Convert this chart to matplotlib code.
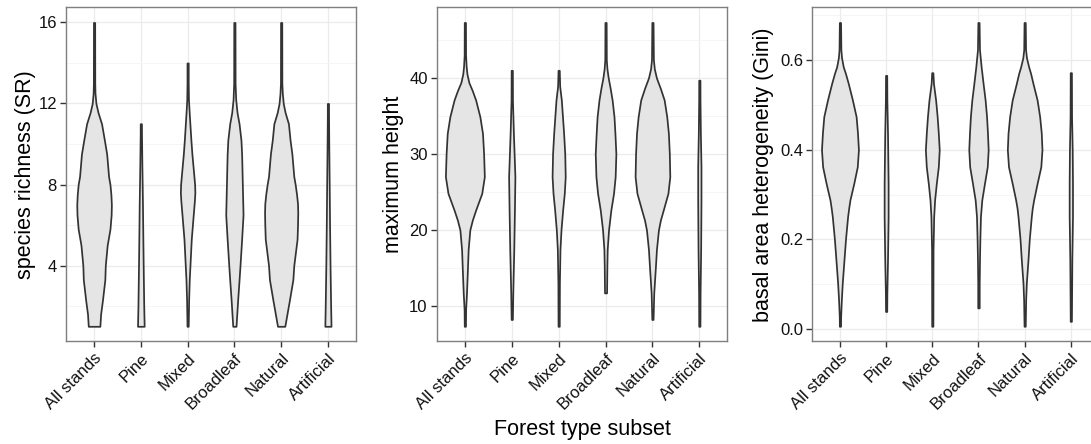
import matplotlib
matplotlib.use("Agg")
import matplotlib.pyplot as plt
import numpy as np

plt.rcParams['font.family'] = ['Liberation Sans', 'DejaVu Sans']

categories = ["All stands", "Pine", "Mixed", "Broadleaf", "Natural", "Artificial"]

# violin outlines: y levels and half widths (category units)
sr_levels = [
    [1.0, 1.6, 2.3, 3.3, 4.0, 5.0, 5.8, 6.5, 7.0, 7.5, 8.0, 8.4, 9.5, 10.2, 11.0, 11.55, 12.0, 12.5, 13.0, 16.0],
    [1.0, 2.0, 4.0, 5.5, 7.0, 9.0, 10.5, 11.0],
    [1.0, 2.3, 3.3, 4.0, 5.3, 6.5, 7.2, 7.6, 8.0, 8.4, 9.5, 10.2, 11.5, 12.2, 13.0, 14.0],
    [1.0, 2.3, 3.3, 4.0, 5.3, 6.5, 8.0, 9.5, 10.2, 11.0, 11.55, 12.2, 13.0, 16.0],
    [1.0, 2.3, 3.3, 4.0, 5.3, 6.0, 6.6, 7.05, 7.5, 8.0, 8.4, 9.5, 10.2, 11.0, 11.55, 12.0, 12.5, 13.0, 16.0],
    [1.0, 2.0, 4.0, 6.0, 8.0, 10.0, 11.5, 12.0],
]
sr_halfw = [
    [0.124, 0.14, 0.18, 0.23, 0.24, 0.28, 0.34, 0.365, 0.37, 0.36, 0.34, 0.31, 0.27, 0.22, 0.16, 0.085, 0.04, 0.02, 0.015, 0.013],
    [0.071, 0.062, 0.05, 0.042, 0.035, 0.022, 0.014, 0.013],
    [0.013, 0.022, 0.035, 0.05, 0.078, 0.12, 0.145, 0.155, 0.15, 0.135, 0.092, 0.07, 0.035, 0.018, 0.013, 0.013],
    [0.035, 0.07, 0.1, 0.12, 0.155, 0.185, 0.17, 0.155, 0.14, 0.1, 0.057, 0.028, 0.015, 0.013],
    [0.078, 0.177, 0.25, 0.27, 0.34, 0.35, 0.355, 0.35, 0.33, 0.30, 0.27, 0.23, 0.19, 0.156, 0.085, 0.045, 0.025, 0.015, 0.013],
    [0.066, 0.058, 0.045, 0.035, 0.027, 0.018, 0.013, 0.013],
]

ht_levels = [
    [7.3, 9.5, 11.7, 15.2, 17.4, 20.0, 21.3, 22.6, 24.8, 27.0, 30.0, 32.7, 34.9, 37.1, 38.3, 39.4, 40.5, 41.5, 43.0, 47.3],
    [8.2, 11.7, 17.4, 22.6, 27.0, 32.7, 37.0, 41.0],
    [7.3, 13.0, 17.4, 20.0, 22.6, 24.8, 27.0, 30.0, 32.7, 37.1, 38.9, 41.0],
    [11.7, 15.2, 17.4, 20.0, 22.6, 24.8, 27.0, 30.0, 32.7, 34.9, 37.1, 38.6, 40.0, 41.2, 42.4, 47.3],
    [8.2, 11.7, 15.2, 17.4, 20.0, 21.3, 22.6, 24.8, 27.0, 30.0, 32.7, 34.9, 37.1, 38.6, 40.0, 41.2, 42.4, 47.3],
    [7.3, 11.7, 17.4, 24.0, 28.3, 32.7, 37.1, 39.7],
]
ht_halfw = [
    [0.013, 0.016, 0.035, 0.057, 0.07, 0.106, 0.16, 0.23, 0.36, 0.415, 0.40, 0.376, 0.32, 0.23, 0.16, 0.085, 0.045, 0.028, 0.015, 0.013],
    [0.013, 0.022, 0.043, 0.057, 0.067, 0.035, 0.015, 0.013],
    [0.013, 0.016, 0.028, 0.05, 0.085, 0.12, 0.14, 0.13, 0.106, 0.057, 0.022, 0.013],
    [0.022, 0.028, 0.035, 0.064, 0.113, 0.17, 0.205, 0.22, 0.2, 0.18, 0.14, 0.1, 0.057, 0.03, 0.016, 0.013],
    [0.013, 0.028, 0.064, 0.085, 0.128, 0.17, 0.23, 0.33, 0.37, 0.36, 0.34, 0.305, 0.25, 0.17, 0.085, 0.04, 0.02, 0.013],
    [0.013, 0.016, 0.028, 0.035, 0.035, 0.022, 0.014, 0.013],
]

gini_levels = [
    [0.006, 0.028, 0.065, 0.102, 0.154, 0.2, 0.251, 0.27, 0.288, 0.325, 0.362, 0.4, 0.437, 0.474, 0.511, 0.548, 0.57, 0.585, 0.605, 0.623, 0.684],
    [0.039, 0.08, 0.154, 0.25, 0.325, 0.437, 0.511, 0.566],
    [0.006, 0.176, 0.251, 0.288, 0.325, 0.362, 0.4, 0.437, 0.474, 0.511, 0.548, 0.572],
    [0.047, 0.102, 0.154, 0.2, 0.251, 0.288, 0.325, 0.362, 0.4, 0.437, 0.474, 0.511, 0.548, 0.585, 0.623, 0.684],
    [0.006, 0.065, 0.102, 0.154, 0.2, 0.251, 0.27, 0.288, 0.325, 0.362, 0.4, 0.437, 0.474, 0.511, 0.548, 0.57, 0.585, 0.605, 0.623, 0.684],
    [0.017, 0.065, 0.154, 0.251, 0.325, 0.4, 0.474, 0.572],
]
gini_halfw = [
    [0.013, 0.015, 0.03, 0.05, 0.087, 0.12, 0.166, 0.19, 0.216, 0.30, 0.375, 0.40, 0.38, 0.35, 0.27, 0.18, 0.12, 0.072, 0.035, 0.02, 0.013],
    [0.013, 0.016, 0.03, 0.043, 0.043, 0.03, 0.016, 0.013],
    [0.013, 0.016, 0.03, 0.05, 0.087, 0.13, 0.15, 0.13, 0.105, 0.072, 0.025, 0.013],
    [0.016, 0.016, 0.022, 0.03, 0.043, 0.072, 0.13, 0.19, 0.21, 0.195, 0.175, 0.144, 0.1, 0.058, 0.022, 0.013],
    [0.013, 0.022, 0.036, 0.072, 0.1, 0.144, 0.165, 0.195, 0.27, 0.35, 0.375, 0.36, 0.325, 0.27, 0.18, 0.13, 0.087, 0.04, 0.02, 0.013],
    [0.013, 0.016, 0.022, 0.036, 0.036, 0.03, 0.016, 0.013],
]

ylabels = ["species richness (SR)", "maximum height", "basal area heterogeneity (Gini)"]
yticks = [[4, 8, 12, 16], [10, 20, 30, 40], [0.0, 0.2, 0.4, 0.6]]
yticklabels = [["4", "8", "12", "16"], ["10", "20", "30", "40"], ["0.0", "0.2", "0.4", "0.6"]]
yminor = [[2, 6, 10, 14], [15, 25, 35, 45], [0.1, 0.3, 0.5, 0.7]]
ylims = [(0.25, 16.75), (5.3, 49.3), (-0.028, 0.718)]

panels = [(sr_levels, sr_halfw), (ht_levels, ht_halfw), (gini_levels, gini_halfw)]
boxes = [[0.0605, 0.2309, 0.2658, 0.7527],
         [0.4003, 0.2309, 0.2665, 0.7527],
         [0.7445, 0.2309, 0.2624, 0.7527]]
ylabel_x = [26, 394, 764]

fig = plt.figure(figsize=(10.91, 4.44), dpi=100)
W, H = 1091.0, 444.0
pos = np.arange(1, len(categories) + 1)

for k, (levels, halfw) in enumerate(panels):
    ax = fig.add_axes(boxes[k])
    for i in range(len(categories)):
        y = np.array(levels[i])
        w = np.array(halfw[i])
        ax.fill_betweenx(y, pos[i] - w, pos[i] + w, facecolor='#e5e5e5',
                         edgecolor='#333333', linewidth=1.25, zorder=3)
    ax.set_xlim(0.4, 6.6)
    ax.set_ylim(*ylims[k])
    ax.set_xticks(pos)
    ax.set_xticklabels(categories, rotation=45, ha='right', va='top',
                       rotation_mode='anchor', fontsize=12)
    ax.set_yticks(yticks[k])
    ax.set_yticklabels(yticklabels[k], fontsize=12)
    ax.set_yticks(yminor[k], minor=True)
    ax.grid(which='major', color='#ebebeb', linewidth=0.9, zorder=0)
    ax.grid(which='minor', axis='y', color='#f4f4f4', linewidth=0.6, zorder=0)
    ax.set_axisbelow(True)
    ax.tick_params(which='major', length=4, width=1.0, color='#333333',
                   labelcolor='#111111', pad=2.5)
    ax.tick_params(which='minor', length=0)
    for s in ax.spines.values():
        s.set_color('#7f7f7f')
        s.set_linewidth(1.0)
    fig.text(ylabel_x[k] / W, boxes[k][1] + boxes[k][3] / 2, ylabels[k],
             rotation=90, ha='center', va='center', fontsize=15.5)

fig.text(582 / W, (H - 435) / H, "Forest type subset", ha='center',
         va='baseline', fontsize=15.5)

fig.savefig("out.png", dpi=100)
